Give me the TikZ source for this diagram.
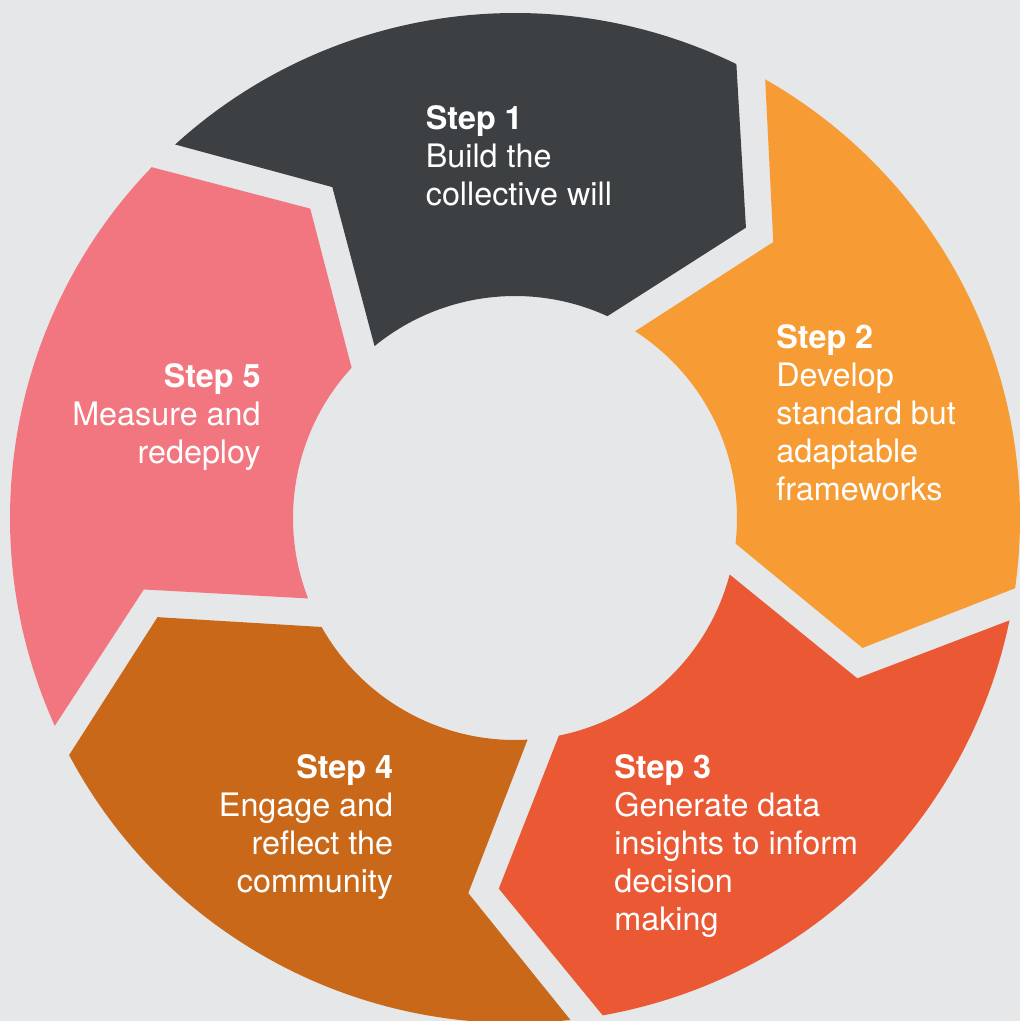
\documentclass[tikz,border=0pt]{standalone}
\usepackage{fontspec}
\setmainfont{TeX Gyre Heros}
\usepackage{xcolor}
\usepackage{tikz}

\definecolor{bggray}{HTML}{E6E7E8}
\definecolor{stepone}{HTML}{3D4043}
\definecolor{steptwo}{HTML}{F79C34}
\definecolor{stepthree}{HTML}{EA5834}
\definecolor{stepfour}{HTML}{CA6819}
\definecolor{stepfive}{HTML}{F27680}

\begin{document}
\begin{tikzpicture}[x=0.02cm, y=0.02cm,
  steptext/.style={text=white, inner sep=0pt, font=\fontsize{18.4}{21.6}\selectfont}]
% Background
\useasboundingbox (-515,-503) rectangle (505,518);
\fill[bggray] (-515,-503) rectangle (505,518);

% Segments
\fill[stepone, rotate=0] (132.3:505) arc[start angle=132.3, end angle=64, radius=505] -- (51.5:371) -- (65.4:222) arc[start angle=65.4, end angle=129.25, radius=222] -- (118.9:378) -- cycle;
\fill[steptwo, rotate=-72] (132.3:505) arc[start angle=132.3, end angle=64, radius=505] -- (51.5:371) -- (65.4:222) arc[start angle=65.4, end angle=129.25, radius=222] -- (118.9:378) -- cycle;
\fill[stepthree, rotate=-144] (132.3:505) arc[start angle=132.3, end angle=64, radius=505] -- (51.5:371) -- (65.4:222) arc[start angle=65.4, end angle=129.25, radius=222] -- (118.9:378) -- cycle;
\fill[stepfour, rotate=-216] (132.3:505) arc[start angle=132.3, end angle=64, radius=505] -- (51.5:371) -- (65.4:222) arc[start angle=65.4, end angle=129.25, radius=222] -- (118.9:378) -- cycle;
\fill[stepfive, rotate=-288] (132.3:505) arc[start angle=132.3, end angle=64, radius=505] -- (51.5:371) -- (65.4:222) arc[start angle=65.4, end angle=129.25, radius=222] -- (118.9:378) -- cycle;

% Labels (anchored at the baseline of the last line)
\node[steptext, align=left, anchor=base west] (build) at (-89.5,312.8) {\textbf{Step 1}\\Build the\\collective will};
\node[steptext, align=left, anchor=base west] (develop) at (261,17.9) {\textbf{Step 2}\\Develop\\standard but\\adaptable\\frameworks};
\node[steptext, align=left, anchor=base west] (generate) at (99,-412.1) {\textbf{Step 3}\\Generate data\\insights to inform\\decision\\making};
\node[steptext, align=right, anchor=base east] (engage) at (-121.5,-374.2) {\textbf{Step 4}\\Engage and\\reflect the\\community};
\node[steptext, align=right, anchor=base east] (measure) at (-254,54.8) {\textbf{Step 5}\\Measure and\\redeploy};
\end{tikzpicture}
\end{document}
